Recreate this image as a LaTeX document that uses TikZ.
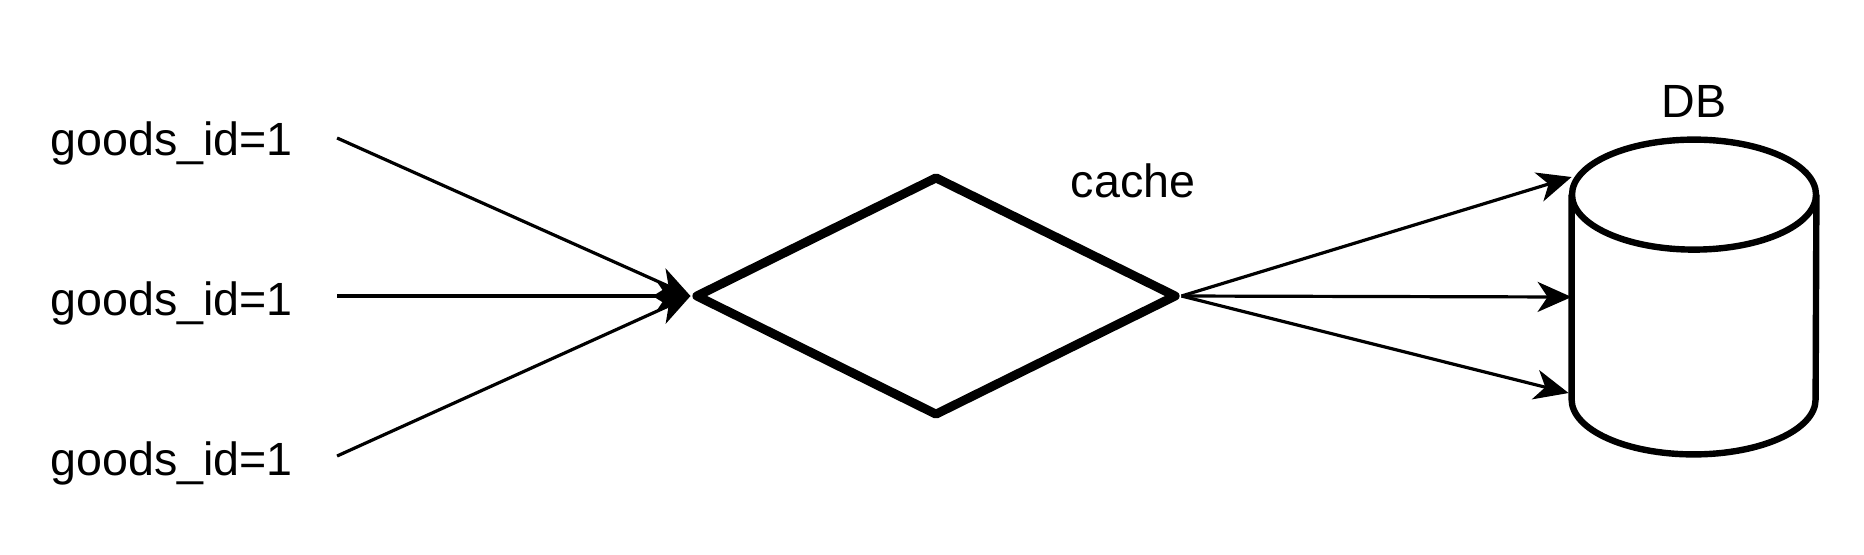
\documentclass[tikz,border=0pt]{standalone}
\usepackage{fontspec}
\setmainfont{Liberation Sans}
\usepackage{tikz}
\usetikzlibrary{arrows.meta, shapes.geometric, calc, positioning}
\tikzset{
    textnode/.style = {draw=none, fill=none, rectangle, inner sep=0em, font=\fontsize{23.3}{28}\selectfont},
    cachenode/.style = {draw, diamond, line width=4.5pt, line join=round, inner sep=0em,
      minimum width=241pt, minimum height=120pt},
    dbnode/.style = {draw=none, rectangle, inner sep=0em, minimum width=122pt, minimum height=157pt},
    dbline/.style = {line width=3.2pt, line join=round},
    connect/.style = {black, line width=1.6pt, -{Stealth[length=17pt, width=15pt, inset=5pt]}}
}
\begin{document}
\begin{tikzpicture}[x=0.5pt, y=-0.5pt]
\useasboundingbox (0,0) rectangle (1864,554);
% requests
\node[textnode, anchor=west, name=req1] at (50,143) {goods\_id=1};
\node[textnode, anchor=west, name=req2] at (50,303) {goods\_id=1};
\node[textnode, anchor=west, name=req3] at (50,463) {goods\_id=1};
\coordinate (src1) at ($(req1.east)+(44,-5)$);
\coordinate (src2) at ($(req2.east)+(44,-7)$);
\coordinate (src3) at ($(req3.east)+(44,-7)$);
% cache
\node[cachenode, name=cache] at (936,296) {};
\node[textnode, name=cachelabel] at (1133,181) {cache};
% db
\node[dbnode, name=db] at (1694,297) {};
\node[textnode, name=dblabel] at (1694,101) {DB};
\draw[dbline] ($(db.north west)+(0,55)$) -- ($(db.south west)+(0,-55)$)
  arc[start angle=180, end angle=0, x radius=122, y radius=55] -- ($(db.north east)+(0,55)$);
\draw[dbline] ($(db.north)+(0,55)$) ellipse [x radius=122, y radius=55];
\coordinate (dbin1) at ($(db.west)+(0,-120)$);
\coordinate (dbin3) at ($(db.west)+(-3,96)$);
% connectors
\draw[connect] (src1) -- (cache.west);
\draw[connect] (src2) -- (cache.west);
\draw[connect] (src3) -- (cache.west);
\draw[connect] (cache.east) -- (dbin1);
\draw[connect] (cache.east) -- (db.west);
\draw[connect] (cache.east) -- (dbin3);
\end{tikzpicture}
\end{document}
